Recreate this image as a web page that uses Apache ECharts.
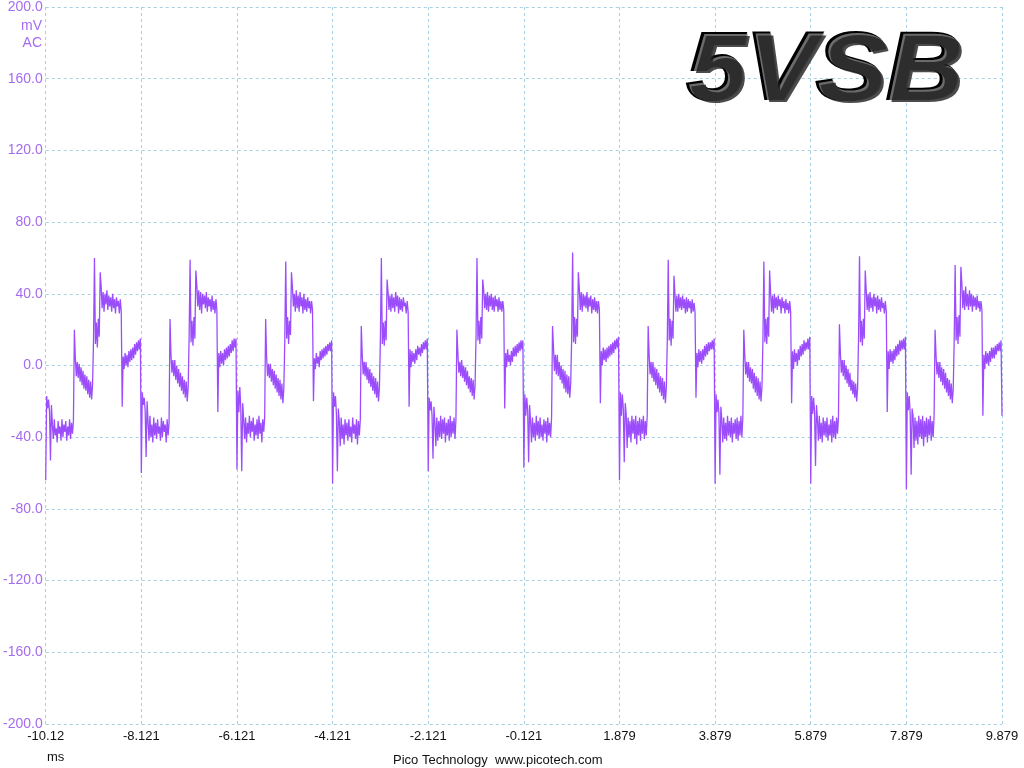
<!DOCTYPE html>
<html>
<head>
<meta charset="utf-8">
<title>5VSB</title>
<script src="https://cdn.jsdelivr.net/npm/echarts@6/dist/echarts.min.js"></script>
<style>
    html, body { margin: 0; padding: 0; background: #fff; }
    #scope { width: 1024px; height: 768px; }
</style>
</head>
<body>
<div id="scope"></div>
<script>
// sample spacing of the capture, ms (time axis runs 0..20 ms from the left edge)
var sampleInterval = 0.02;

// tick labels as the scope prints them
var xTickLabels = ['-10.12', '-8.121', '-6.121', '-4.121', '-2.121', '-0.121',
    '1.879', '3.879', '5.879', '7.879', '9.879'];

// mV, one array per 2 ms cycle (100 samples)
var cycle1 = [-64, -17, -24, -19, -26, -53, -22,
    -33, -41, -30, -39, -35, -43, -31, -38, -34, -42, -30, -40, -33, -37, -31, -42, -34, -39, -30, -41, -32, -38, -31,
    20, 4, -6, 2, -7, 1, -9, -1, -11, -3, -13, -5, -14, -6, -16, -8, -18, -9, -19, -11,
    14, 60, 12, 24, 10, 26, 16, 52,
    44, 32, 41, 30, 40, 34, 42, 31, 39, 33, 38, 30, 40, 32, 37, 29, 38, 33, 36, 29, 37, 30,
    -23, 5, -2, 7, 0, 6, -1, 8, 2, 9, 3, 10, 4, 12, 6, 13, 8, 14, 9, 15];
var cycle2 = [-60, -15, -22, -18, -25, -51, -20,
    -31, -42, -28, -40, -33, -43, -29, -39, -32, -41, -30, -38, -34, -42, -29, -40, -31, -37, -33, -43, -30, -39, -32,
    26, 6, -4, 3, -6, 3, -8, 0, -10, -2, -12, -4, -14, -6, -16, -8, -18, -9, -20, -12,
    16, 59, 13, 25, 11, 27, 15, 53,
    45, 33, 42, 31, 41, 29, 40, 34, 39, 32, 41, 30, 38, 33, 37, 30, 39, 31, 36, 29, 37, 31,
    -26, 7, -1, 8, 1, 7, 0, 9, 3, 10, 4, 11, 5, 12, 7, 14, 8, 15, 10, 15];
var cycle3 = [-58, -14, -26, -12, -24, -59, -21,
    -30, -41, -29, -43, -32, -38, -28, -40, -31, -37, -29, -42, -33, -39, -30, -41, -28, -38, -32, -43, -30, -37, -29,
    26, 5, -6, 1, -7, 1, -9, -2, -11, -3, -13, -5, -15, -7, -17, -8, -19, -10, -21, -13,
    13, 58, 15, 27, 12, 25, 17, 52,
    44, 33, 40, 30, 42, 32, 39, 30, 41, 33, 38, 29, 40, 31, 37, 30, 38, 32, 36, 29, 36, 31,
    -20, 4, -2, 7, 1, 5, -1, 8, 3, 9, 4, 10, 5, 11, 6, 12, 8, 13, 8, 14];
var cycle4 = [-66, -15, -23, -17, -27, -59, -24,
    -31, -45, -29, -41, -33, -44, -30, -39, -32, -42, -30, -40, -34, -43, -29, -38, -33, -41, -30, -44, -31, -39, -30,
    22, 6, -5, 2, -6, 2, -8, -1, -10, -2, -12, -4, -14, -6, -16, -7, -18, -9, -20, -12,
    15, 60, 12, 24, 11, 25, 14, 48,
    41, 31, 39, 30, 40, 32, 38, 30, 41, 33, 39, 29, 38, 31, 37, 30, 38, 33, 35, 29, 36, 30,
    -23, 9, -1, 8, 2, 7, 1, 9, 3, 11, 6, 10, 5, 12, 7, 13, 9, 14, 9, 15];
var cycle5 = [-59, -18, -25, -20, -28, -52, -23,
    -32, -45, -29, -42, -31, -40, -28, -41, -30, -38, -29, -43, -32, -39, -30, -42, -28, -40, -31, -38, -29, -41, -30,
    20, 7, -4, 2, -6, 3, -7, 0, -9, -1, -11, -3, -13, -6, -15, -7, -17, -8, -19, -11,
    16, 60, 14, 25, 12, 27, 15, 48,
    42, 32, 40, 31, 41, 30, 39, 33, 40, 31, 38, 30, 39, 33, 37, 30, 38, 31, 36, 30, 36, 31,
    -24, 7, -1, 9, 2, 6, 0, 8, 2, 10, 5, 11, 5, 12, 7, 13, 8, 14, 9, 14];
var cycle6 = [-57, -16, -28, -18, -25, -54, -22,
    -31, -43, -29, -40, -32, -42, -28, -39, -31, -41, -29, -40, -33, -42, -30, -38, -31, -43, -29, -39, -32, -40, -29,
    22, 10, -3, 6, -5, 6, -6, 2, -8, 0, -10, -2, -13, -3, -15, -5, -16, -6, -18, -10,
    15, 63, 13, 27, 12, 26, 16, 52,
    43, 31, 41, 30, 40, 33, 39, 32, 41, 30, 38, 33, 39, 29, 37, 31, 38, 30, 36, 29, 36, 31,
    -21, 8, 0, 10, 3, 9, 2, 10, 4, 11, 5, 12, 6, 13, 7, 14, 9, 15, 10, 16];
var cycle7 = [-64, -15, -28, -16, -24, -54, -21,
    -27, -46, -29, -40, -31, -43, -28, -38, -30, -41, -28, -44, -31, -39, -29, -42, -30, -38, -28, -41, -31, -39, -28,
    22, 6, -5, 2, -7, 2, -9, -1, -11, -2, -13, -4, -15, -6, -17, -7, -19, -9, -21, -12,
    14, 59, 14, 26, 11, 25, 15, 50,
    40, 30, 39, 30, 40, 32, 38, 31, 39, 32, 37, 29, 38, 30, 37, 32, 36, 29, 37, 30, 35, 30,
    -18, 7, -1, 9, 2, 8, 1, 9, 3, 11, 5, 12, 6, 13, 8, 13, 9, 14, 9, 15];
var cycle8 = [-66, -16, -26, -19, -27, -61, -23,
    -30, -43, -29, -41, -32, -42, -28, -39, -31, -40, -29, -43, -32, -38, -30, -41, -29, -42, -31, -39, -28, -40, -29,
    20, 6, -5, 2, -7, 2, -9, -1, -10, -2, -13, -4, -15, -6, -17, -7, -19, -9, -20, -12,
    14, 58, 13, 26, 12, 27, 16, 53,
    41, 30, 39, 29, 40, 32, 38, 31, 39, 33, 37, 29, 38, 32, 36, 29, 37, 31, 35, 29, 36, 30,
    -21, 8, -2, 9, 2, 7, 0, 9, 3, 11, 5, 12, 6, 14, 8, 13, 9, 15, 9, 16];
var cycle9 = [-66, -17, -27, -18, -26, -56, -22,
    -30, -42, -28, -41, -32, -43, -29, -39, -31, -40, -29, -42, -33, -39, -30, -43, -28, -40, -31, -41, -29, -38, -29,
    23, 7, -4, 3, -6, 3, -8, 0, -10, -2, -12, -4, -14, -8, -16, -9, -18, -10, -20, -13,
    15, 61, 13, 25, 11, 26, 15, 53,
    42, 31, 40, 30, 41, 32, 38, 30, 40, 33, 38, 29, 39, 31, 37, 30, 38, 32, 35, 29, 36, 30,
    -26, 8, -2, 9, 2, 8, 1, 9, 3, 11, 5, 12, 6, 14, 8, 14, 9, 15, 9, 16];
var cycle10 = [-69, -15, -25, -17, -27, -61, -24,
    -28, -46, -29, -42, -31, -44, -28, -40, -30, -41, -28, -45, -31, -40, -29, -43, -30, -39, -28, -42, -31, -40, -28,
    20, 6, -5, 2, -7, 2, -9, -1, -11, -2, -13, -4, -15, -7, -17, -8, -19, -10, -21, -13,
    14, 56, 14, 27, 12, 28, 16, 55,
    46, 32, 42, 31, 44, 33, 40, 31, 42, 33, 40, 30, 39, 33, 38, 31, 39, 32, 36, 30, 36, 31,
    -28, 6, -2, 8, 1, 7, 0, 8, 2, 10, 4, 10, 4, 11, 6, 12, 8, 13, 8, 14];
var tail = [-28];

var trace = [].concat(cycle1, cycle2, cycle3, cycle4, cycle5,
    cycle6, cycle7, cycle8, cycle9, cycle10, tail);

var points = [];
for (var i = 0; i < trace.length; i++) {
    points.push([i * sampleInterval, trace[i]]);
}

var chart = echarts.init(document.getElementById('scope'));

var gridColor = '#a9d0e2';
var labelPurple = '#a46cf0';
var traceColor = '#9b4dfc';
var titleFont = 'italic bold 96px "Liberation Sans"';

var option = {
    backgroundColor: '#ffffff',
    animation: false,
    grid: { left: 45, right: 22, top: 7, bottom: 44, containLabel: false },
    xAxis: {
        type: 'value',
        min: 0,
        max: 20,
        interval: 2,
        axisLine: { show: false },
        axisTick: { show: false },
        axisLabel: {
            color: '#111',
            fontFamily: 'Liberation Sans',
            fontSize: 13,
            margin: 6,
            formatter: function (v) {
                return xTickLabels[Math.round(v / 2)];
            }
        },
        splitLine: { show: true, lineStyle: { color: gridColor, type: [3, 3], width: 1 } }
    },
    yAxis: {
        type: 'value',
        min: -200,
        max: 200,
        interval: 40,
        axisLine: { show: false },
        axisTick: { show: false },
        axisLabel: {
            color: labelPurple,
            fontFamily: 'Liberation Sans',
            fontSize: 14,
            margin: 3,
            formatter: function (v) { return v.toFixed(1); }
        },
        splitLine: { show: true, lineStyle: { color: gridColor, type: [3, 3], width: 1 } }
    },
    graphic: [
        {
            type: 'text', right: 1024 - 42, top: 19,
            style: { text: 'mV', fill: labelPurple, font: '14px "Liberation Sans"', textAlign: 'right' }
        },
        {
            type: 'text', right: 1024 - 42, top: 36,
            style: { text: 'AC', fill: labelPurple, font: '14px "Liberation Sans"', textAlign: 'right' }
        },
        {
            type: 'text', left: 47, top: 751,
            style: { text: 'ms', fill: '#111', font: '13px "Liberation Sans"' }
        },
        {
            type: 'text', left: 393, top: 754,
            style: { text: 'Pico Technology  www.picotech.com', fill: '#111', font: '13px "Liberation Sans"' }
        },
        // title: dark outline layer, then a grey face layer on top
        {
            type: 'text', x: 686, y: 25, scaleX: 1.1, z: 10,
            style: { text: '5VSB', x: 0, y: 0, font: titleFont, fill: '#000', stroke: '#000', lineWidth: 2 }
        },
        {
            type: 'text', x: 688, y: 26, scaleX: 1.1, z: 11,
            style: { text: '5VSB', x: 0, y: 0, font: titleFont, fill: '#8f8f8f', opacity: 0.75 }
        },
        {
            type: 'text', x: 690, y: 28, scaleX: 1.1, z: 12,
            style: { text: '5VSB', x: 0, y: 0, font: titleFont, fill: '#1e1e1e', opacity: 0.8 }
        }
    ],
    series: [
        {
            name: '5VSB',
            type: 'line',
            data: points,
            showSymbol: false,
            sampling: null,
            lineStyle: { color: traceColor, width: 1.3 },
            itemStyle: { color: traceColor }
        }
    ]
};

chart.setOption(option);
window.addEventListener('resize', function () {
    chart.resize();
});
</script>
</body>
</html>
